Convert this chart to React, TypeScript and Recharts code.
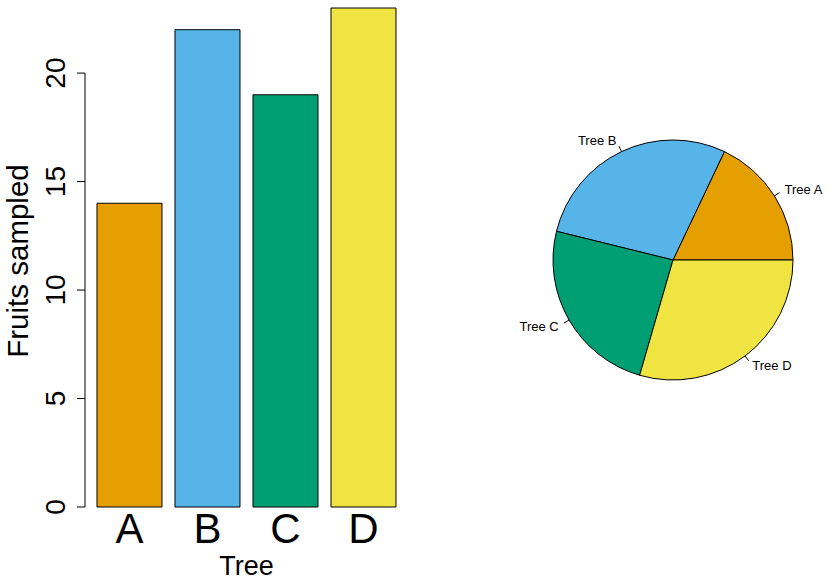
import { Bar, BarChart, Cell, Pie, PieChart, ReferenceLine, XAxis, YAxis } from "recharts"

const trees = ["A", "B", "C", "D"]
const fruits = [14, 22, 19, 23]
const pieLabels = ["Tree A", "Tree B", "Tree C", "Tree D"]
const colors = ["#E69F00", "#56B4E9", "#009E73", "#F0E442"]
const yTicks = [0, 5, 10, 15, 20]

const font = "'Liberation Sans', Arial, Helvetica, sans-serif"

const barData = trees.map((t, i) => ({ tree: t, fruits: fruits[i] }))
const pieData = pieLabels.map((l, i) => ({ name: l, value: fruits[i] }))

const RAD = Math.PI / 180

function YTick({ x, y, payload }: any) {
  return (
    <text x={x} y={y} dy={-12} transform={`rotate(-90 ${x} ${y})`} textAnchor="middle"
      fontSize={28} fontFamily={font} fill="#000">
      {payload.value}
    </text>
  )
}

function XTick({ x, y, payload }: any) {
  return (
    <text x={x} y={y + 36} textAnchor="middle" fontSize={42} fontFamily={font} fill="#000">
      {payload.value}
    </text>
  )
}

function pieLabel(p: any) {
  const { cx, cy, midAngle, outerRadius, name } = p
  const c = Math.cos(-midAngle * RAD)
  const s = Math.sin(-midAngle * RAD)
  return (
    <g>
      <line x1={cx + outerRadius * c} y1={cy + outerRadius * s}
        x2={cx + outerRadius * 1.05 * c} y2={cy + outerRadius * 1.05 * s} stroke="#000" />
      <text x={cx + outerRadius * 1.1 * c} y={cy + outerRadius * 1.1 * s}
        textAnchor={c > 0 ? "start" : "end"} dominantBaseline="central"
        fontSize={13} fontFamily={font} fill="#000">
        {name}
      </text>
    </g>
  )
}

export default function App() {
  return (
    <div style={{ position: "absolute", left: 0, top: 0, width: 828, height: 581, background: "#fff" }}>
      <div style={{ position: "absolute", left: 0, top: 0 }}>
        <BarChart width={420} height={581} data={barData}
          margin={{ top: 8, right: 12, bottom: 0, left: 25 }} barCategoryGap="8.33%">
          <XAxis dataKey="tree" tickLine={false} axisLine={false} tickSize={0} tickMargin={0}
            height={74} padding={{ left: 5.5, right: 5.5 }} tick={<XTick />} interval={0}
            label={{
              content: ({ viewBox }: any) => (
                <text x={viewBox.x + viewBox.width / 2} y={575} textAnchor="middle"
                  fontSize={27} fontFamily={font} fill="#000">Tree</text>
              ),
            }} />
          <XAxis xAxisId="line" type="number" domain={[0, 1]} hide />
          <YAxis domain={[0, 23]} ticks={yTicks} interval={0} axisLine={false} tickSize={8}
            tickMargin={0} width={60} tick={<YTick />} tickLine={{ stroke: "#000" }}
            label={{
              content: () => (
                <text x={28} y={261} transform="rotate(-90 28 261)" textAnchor="middle"
                  fontSize={29.5} fontFamily={font} fill="#000">Fruits sampled</text>
              ),
            }} />
          <ReferenceLine xAxisId="line" segment={[{ x: 0, y: 0 }, { x: 0, y: 20 }]} stroke="#000" />
          <Bar dataKey="fruits" stroke="#000" strokeWidth={1} isAnimationActive={false}>
            {barData.map((d, i) => <Cell key={d.tree} fill={colors[i]} />)}
          </Bar>
        </BarChart>
      </div>
      <div style={{ position: "absolute", left: 430, top: 0 }}>
        <PieChart width={398} height={581} margin={{ top: 0, right: 0, bottom: 0, left: 0 }}>
          <Pie data={pieData} dataKey="value" nameKey="name" cx={243} cy={260} outerRadius={120}
            startAngle={0} endAngle={360} stroke="#000" strokeWidth={1} label={pieLabel}
            labelLine={false} isAnimationActive={false}>
            {pieData.map((d, i) => <Cell key={d.name} fill={colors[i]} />)}
          </Pie>
        </PieChart>
      </div>
    </div>
  )
}
